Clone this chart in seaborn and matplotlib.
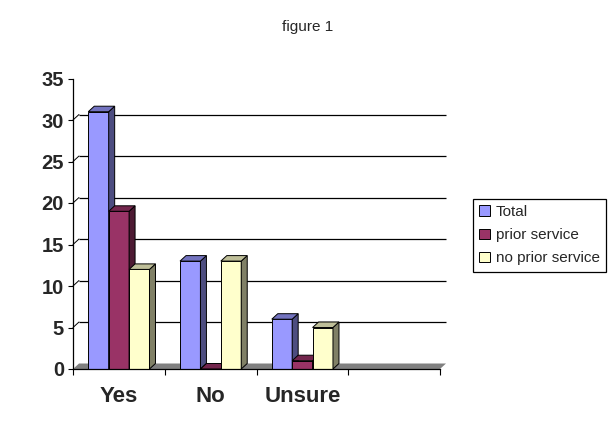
import matplotlib
matplotlib.use("Agg")
import matplotlib.pyplot as plt
import seaborn as sns
import pandas as pd
from matplotlib.patches import Polygon, Patch

categories = ["Yes", "No", "Unsure"]
slots = categories + [""]
series = ["Total", "prior service", "no prior service"]
total = [31, 13, 6]
prior_service = [19, 0, 1]
no_prior_service = [12, 13, 5]
yticks = [0, 5, 10, 15, 20, 25, 30, 35]

front_colors = ["#9999FF", "#993366", "#FFFFCC"]
side_colors = ["#4D4D80", "#4D1A33", "#808066"]
top_colors = ["#7373BF", "#73264D", "#BFBF99"]

sns.set_style("white")
plt.rcParams['font.family'] = ['Liberation Sans', 'DejaVu Sans']

df = pd.DataFrame({
    "category": categories * 3,
    "series": [s for s in series for _ in categories],
    "value": total + prior_service + no_prior_service,
})

W, H = 615, 429
fig = plt.figure(figsize=(W / 100, H / 100), dpi=100)
ax = fig.add_axes([73 / W, 1 - 369 / H, (440 - 73) / W, (369 - 78.5) / H])

sns.barplot(data=df, x="category", y="value", hue="series", order=slots,
            hue_order=series, palette=front_colors, width=0.667, saturation=1,
            edgecolor="black", linewidth=0.7, ax=ax, legend=False, errorbar=None)

ax.set_xlim(-0.5, 3.5)
ax.set_ylim(0, 35)

# depth of the pseudo-3D effect (in data units)
dx = 6.0 / ((440 - 73) / 4)
dy = 5.5 / ((369 - 78.5) / 35)

# floor
floor = Polygon([(-0.5, 0), (3.5, 0), (3.5 + dx, dy), (-0.5 + dx, dy)],
                closed=True, facecolor="#808080", edgecolor="none",
                zorder=1.5, clip_on=False)
ax.add_patch(floor)

# back-wall gridlines and short connectors
for v in yticks[1:-1]:
    ax.plot([-0.5 + dx, 3.5 + dx], [v + dy, v + dy], color="black", lw=0.9,
            zorder=1, clip_on=False, solid_capstyle="butt")
    ax.plot([-0.5, -0.5 + dx], [v, v + dy], color="black", lw=0.7,
            zorder=1, clip_on=False)

# 3D faces
bars = []
for si, cont in enumerate(ax.containers):
    for p in cont.patches:
        h = p.get_height()
        if h != h:
            continue
        bars.append((p.get_x(), si, p))
bars.sort(key=lambda t: t[0])
for i, (x0, si, p) in enumerate(bars):
    w = p.get_width()
    h = p.get_height()
    z = 3 + 3 * i
    p.set_zorder(z)
    p.set_clip_on(False)
    side = Polygon([(x0 + w, 0), (x0 + w + dx, dy), (x0 + w + dx, h + dy), (x0 + w, h)],
                   closed=True, facecolor=side_colors[si], edgecolor="black",
                   linewidth=0.7, zorder=z + 1, clip_on=False)
    top = Polygon([(x0, h), (x0 + w, h), (x0 + w + dx, h + dy), (x0 + dx, h + dy)],
                  closed=True, facecolor=top_colors[si], edgecolor="black",
                  linewidth=0.7, zorder=z + 2, clip_on=False)
    ax.add_patch(side)
    ax.add_patch(top)

# spines
for s in ["top", "right"]:
    ax.spines[s].set_visible(False)
for s in ["left", "bottom"]:
    ax.spines[s].set_color("black")
    ax.spines[s].set_linewidth(0.9)
    ax.spines[s].set_zorder(100)

ax.set_yticks(yticks)
ax.set_yticklabels([str(t) for t in yticks], fontsize=14.5, fontweight="bold")
ax.tick_params(axis="y", left=True, direction="out", length=3.5, width=0.8,
               color="black", pad=3)

ax.set_xticks([-0.5, 0.5, 1.5, 2.5, 3.5])
ax.set_xticklabels([""] * 5)
ax.set_xticks([0, 1, 2], minor=True)
ax.set_xticklabels(categories, minor=True, fontsize=16, fontweight="bold")
ax.tick_params(axis="x", which="major", bottom=True, direction="out", length=4,
               width=0.8, color="black")
ax.tick_params(axis="x", which="minor", bottom=True, length=0, pad=12)
ax.set_xlabel("")
ax.set_ylabel("")

fig.text(0.5, 1 - 27 / H, "figure 1", ha="center", va="center", fontsize=11)

handles = [Patch(facecolor=c, edgecolor="black", linewidth=0.7) for c in front_colors]
leg = fig.legend(handles, series, loc="upper left",
                 bbox_to_anchor=(473 / W, 1 - 199 / H), bbox_transform=fig.transFigure,
                 frameon=True, fancybox=False, edgecolor="black", framealpha=1,
                 fontsize=11, handlelength=0.7, handleheight=0.7,
                 handletextpad=0.4, labelspacing=0.6, borderpad=0.4,
                 borderaxespad=0)
leg.get_frame().set_linewidth(0.9)

fig.savefig("out.png", dpi=100, facecolor="white")
